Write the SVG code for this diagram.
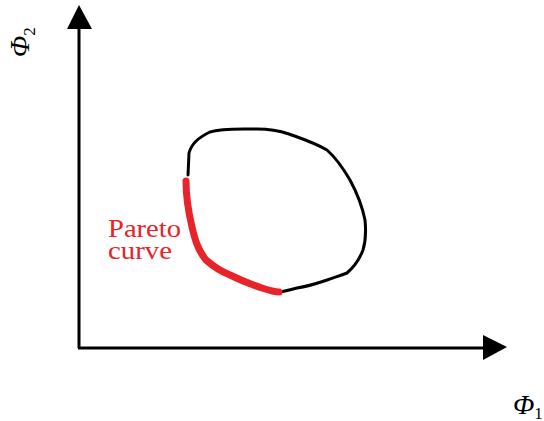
<svg xmlns="http://www.w3.org/2000/svg" width="544" height="421" viewBox="0 0 544 421">
<style>
.ax{stroke:#000;stroke-width:3;fill:none}
.loop{stroke:#000;stroke-width:3;fill:none;stroke-linejoin:round;stroke-linecap:round}
.pareto{stroke:#e8232a;stroke-width:7;fill:none;stroke-linecap:round;stroke-linejoin:round}
.lab{font-family:"Liberation Serif",serif;font-style:italic;font-size:28px;fill:#000}
.sub{font-family:"Liberation Serif",serif;font-style:normal;font-size:17px;fill:#000}
.red{font-family:"Liberation Serif",serif;font-size:25px;fill:#e8232a}
</style>
<rect width="544" height="421" fill="#fff"/>
<g id="axes">
<line class="ax" x1="79" y1="348" x2="79" y2="26"/>
<polygon points="79,5 67,29 92,29" fill="#000"/>
<line class="ax" x1="78" y1="348" x2="485" y2="348"/>
<polygon points="507,347 483,335 483,360" fill="#000"/>
</g>
<g id="phi2">
<text class="lab" transform="translate(29,57) rotate(-90)">Φ<tspan class="sub" dy="6">2</tspan></text>
</g>
<g id="phi1">
<text class="lab" x="513" y="414">Φ<tspan class="sub" dy="5">1</tspan></text>
</g>
<g id="region">
<path class="loop" d="M188,175 L189,153 C191,145 197,138 210,132 C222,128 240,129 257,129 C268,129 277,130 289,134 C300,138 315,143 327,150 C336,158 343,168 350,180 C357,193 362,205 365,220 C366,230 366,240 363,250 C360,258 355,266 347,273 C340,276 335,277 327,280 C318,283 310,286 297,288 C290,290 285,291 280,292"/>
<path class="pareto" d="M186,181 C186,195 188,210 192,227 C195,240 198,250 206,260 C214,267 220,271 230,275 C240,280 250,284 262,288 C268,290 274,292 279,292"/>
</g>
<g id="label">
<text class="red" x="108" y="237" textLength="73" lengthAdjust="spacingAndGlyphs">Pareto</text>
<text class="red" x="108" y="259" textLength="64" lengthAdjust="spacingAndGlyphs">curve</text>
</g>
</svg>
